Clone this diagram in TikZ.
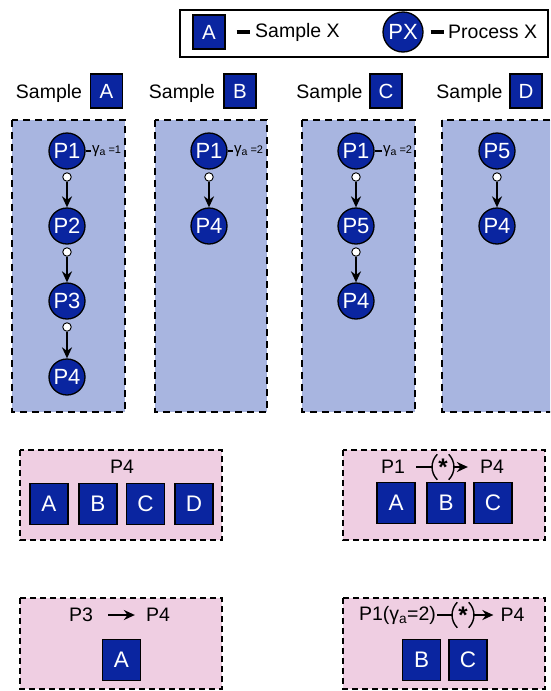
\documentclass[tikz,border=0pt]{standalone}
\usepackage{fontspec}
\setmainfont{Liberation Sans}
\usetikzlibrary{arrows.meta}
\definecolor{navy}{HTML}{0A25A0}
\definecolor{panelblue}{HTML}{A8B5E0}
\definecolor{panelpink}{HTML}{EFCEE2}
\begin{document}
\begin{tikzpicture}[x=1pt,y=-1pt,
  sample/.style={draw=black, line width=1.3pt, fill=navy, text=white, minimum width=32, minimum height=34, inner sep=0pt, font=\fontsize{20.5}{20.5}\selectfont},
  bigsample/.style={sample, minimum width=38, minimum height=41, font=\fontsize{22.5}{22.5}\selectfont},
  proc/.style={circle, draw=black, line width=1.3pt, fill=navy, text=white, minimum size=36, inner sep=0pt, font=\fontsize{22}{22}\selectfont},
  dotnode/.style={circle, draw=black, line width=0.9pt, fill=white, minimum size=8.5, inner sep=0pt},
  flow/.style={-{Stealth[length=11pt,width=10pt]}, line width=2pt},
  tick/.style={line width=2pt},
  bar/.style={line width=3.2pt},
  paren/.style={line width=1.4pt},
  lbl/.style={inner sep=1pt, font=\fontsize{19.5}{19.5}\selectfont},
  gam/.style={inner sep=1pt, font=\fontsize{15}{15}\selectfont},
  bluepanel/.style={fill=panelblue, draw=black, line width=2pt, dash pattern=on 7pt off 5pt},
  pinkpanel/.style={fill=panelpink, draw=black, line width=1.5pt, dash pattern=on 6pt off 4pt},
  starmark/.style={inner sep=0pt, minimum width=19, minimum height=25, font=\fontsize{24}{24}\selectfont\bfseries}]
\clip (0,0) rectangle (550,691);
\fill[white] (0,0) rectangle (550,691);

% legend
\draw[line width=1.3pt] (180,10) rectangle (548,57);
\node[sample] (lgA) at (209,32) {A};
\node[lbl, anchor=west] (lgS) at (254,32) {Sample X};
\draw[bar] ([xshift=11pt]lgA.east) -- ([xshift=-4pt]lgS.west);
\node[proc, minimum size=40] (lgP) at (403,32) {PX};
\node[lbl, anchor=west] (lgT) at (447,32) {Process X};
\draw[bar] ([xshift=7pt]lgP.east) -- ([xshift=-3pt]lgT.west);

% sample headers
\node[lbl] (hA) at (49,93) {Sample};
\node[sample] (sA) at (106.5,91) {A};
\node[lbl] (hB) at (182,93) {Sample};
\node[sample] (sB) at (240,91) {B};
\node[lbl] (hC) at (329.5,93) {Sample};
\node[sample] (sC) at (386,91) {C};
\node[lbl] (hD) at (469.5,93) {Sample};
\node[sample] (sD) at (526,91) {D};

% process panels
\draw[bluepanel] (12,120) rectangle (125,412);
\draw[bluepanel] (155,120) rectangle (267,412);
\draw[bluepanel] (302,120) rectangle (415,412);
\draw[bluepanel] (442,120) rectangle (570,412);

% sample A chain
\node[proc] (a1) at (67,151) {P1};
\node[proc] (a2) at (67,226) {P2};
\node[proc] (a3) at (67,301) {P3};
\node[proc] (a4) at (67,377) {P4};
\node[dotnode] (ad1) at (67,177) {};
\node[dotnode] (ad2) at (67,252) {};
\node[dotnode] (ad3) at (67,327) {};
\draw[flow] (ad1) -- (a2);
\draw[flow] (ad2) -- (a3);
\draw[flow] (ad3) -- (a4);
\node[gam, anchor=west] (ga) at (91,151) {γ\textsubscript{a}\,{\fontsize{11}{11}\selectfont=1}};
\draw[tick] (a1) -- (ga);

% sample B chain
\node[proc] (b1) at (209,151) {P1};
\node[proc] (b2) at (209,226) {P4};
\node[dotnode] (bd1) at (209,177) {};
\draw[flow] (bd1) -- (b2);
\node[gam, anchor=west] (gb) at (233,151) {γ\textsubscript{a}\,{\fontsize{11}{11}\selectfont=2}};
\draw[tick] (b1) -- (gb);

% sample C chain
\node[proc] (c1) at (356,151) {P1};
\node[proc] (c2) at (356,226) {P5};
\node[proc] (c3) at (356,301) {P4};
\node[dotnode] (cd1) at (356,177) {};
\node[dotnode] (cd2) at (356,252) {};
\draw[flow] (cd1) -- (c2);
\draw[flow] (cd2) -- (c3);
\node[gam, anchor=west] (gc) at (382,151) {γ\textsubscript{a}\,{\fontsize{11}{11}\selectfont=2}};
\draw[tick] (c1) -- (gc);

% sample D chain
\node[proc] (d1) at (497,151) {P5};
\node[proc] (d2) at (497,226) {P4};
\node[dotnode] (dd1) at (497,177) {};
\draw[flow] (dd1) -- (d2);

% group: P4
\draw[pinkpanel] (20,450) rectangle (222,540);
\node[lbl] (g1t) at (122,467) {P4};
\node[bigsample] (g1a) at (49,504) {A};
\node[bigsample] (g1b) at (98,504) {B};
\node[bigsample] (g1c) at (145.5,504) {C};
\node[bigsample] (g1d) at (194,504) {D};

% group: P1 -> P4 through an intermediate step
\draw[pinkpanel] (343,450) rectangle (545,540);
\node[lbl] (g2p) at (393,467) {P1};
\node[starmark] (g2s) at (443,467) {\raisebox{-0.42ex}{*}};
\draw[paren] ([xshift=4pt]g2s.north west) to[bend right=45] ([xshift=4pt]g2s.south west);
\draw[paren] ([xshift=-4pt]g2s.north east) to[bend left=45] ([xshift=-4pt]g2s.south east);
\node[lbl] (g2q) at (492,467) {P4};
\draw[tick] ([xshift=10pt]g2p.east) -- (g2s);
\draw[flow] (g2s) -- ([xshift=-11pt]g2q.west);
\node[bigsample] (g2a) at (396,503) {A};
\node[bigsample] (g2b) at (446,503) {B};
\node[bigsample] (g2c) at (493,503) {C};

% group: P3 -> P4
\draw[pinkpanel] (20,598) rectangle (222,689);
\node[lbl] (g3p) at (81,615) {P3};
\node[lbl] (g3q) at (158,615) {P4};
\draw[flow] ([xshift=14pt]g3p.east) -- ([xshift=-10pt]g3q.west);
\node[bigsample] (g3a) at (121.5,660) {A};

% group: P1(ya=2) -> P4 through an intermediate step
\draw[pinkpanel] (343,598) rectangle (545,689);
\node[lbl] (g4p) at (397.5,615) {P1(γ\textsubscript{a}=2)};
\node[starmark] (g4s) at (463,615) {\raisebox{-0.42ex}{*}};
\draw[paren] ([xshift=4pt]g4s.north west) to[bend right=45] ([xshift=4pt]g4s.south west);
\draw[paren] ([xshift=-4pt]g4s.north east) to[bend left=45] ([xshift=-4pt]g4s.south east);
\node[lbl] (g4q) at (512.5,615) {P4};
\draw[tick] (g4p) -- (g4s);
\draw[flow] (g4s) -- ([xshift=-6pt]g4q.west);
\node[bigsample] (g4b) at (421.5,660) {B};
\node[bigsample] (g4c) at (468,660) {C};
\end{tikzpicture}
\end{document}
